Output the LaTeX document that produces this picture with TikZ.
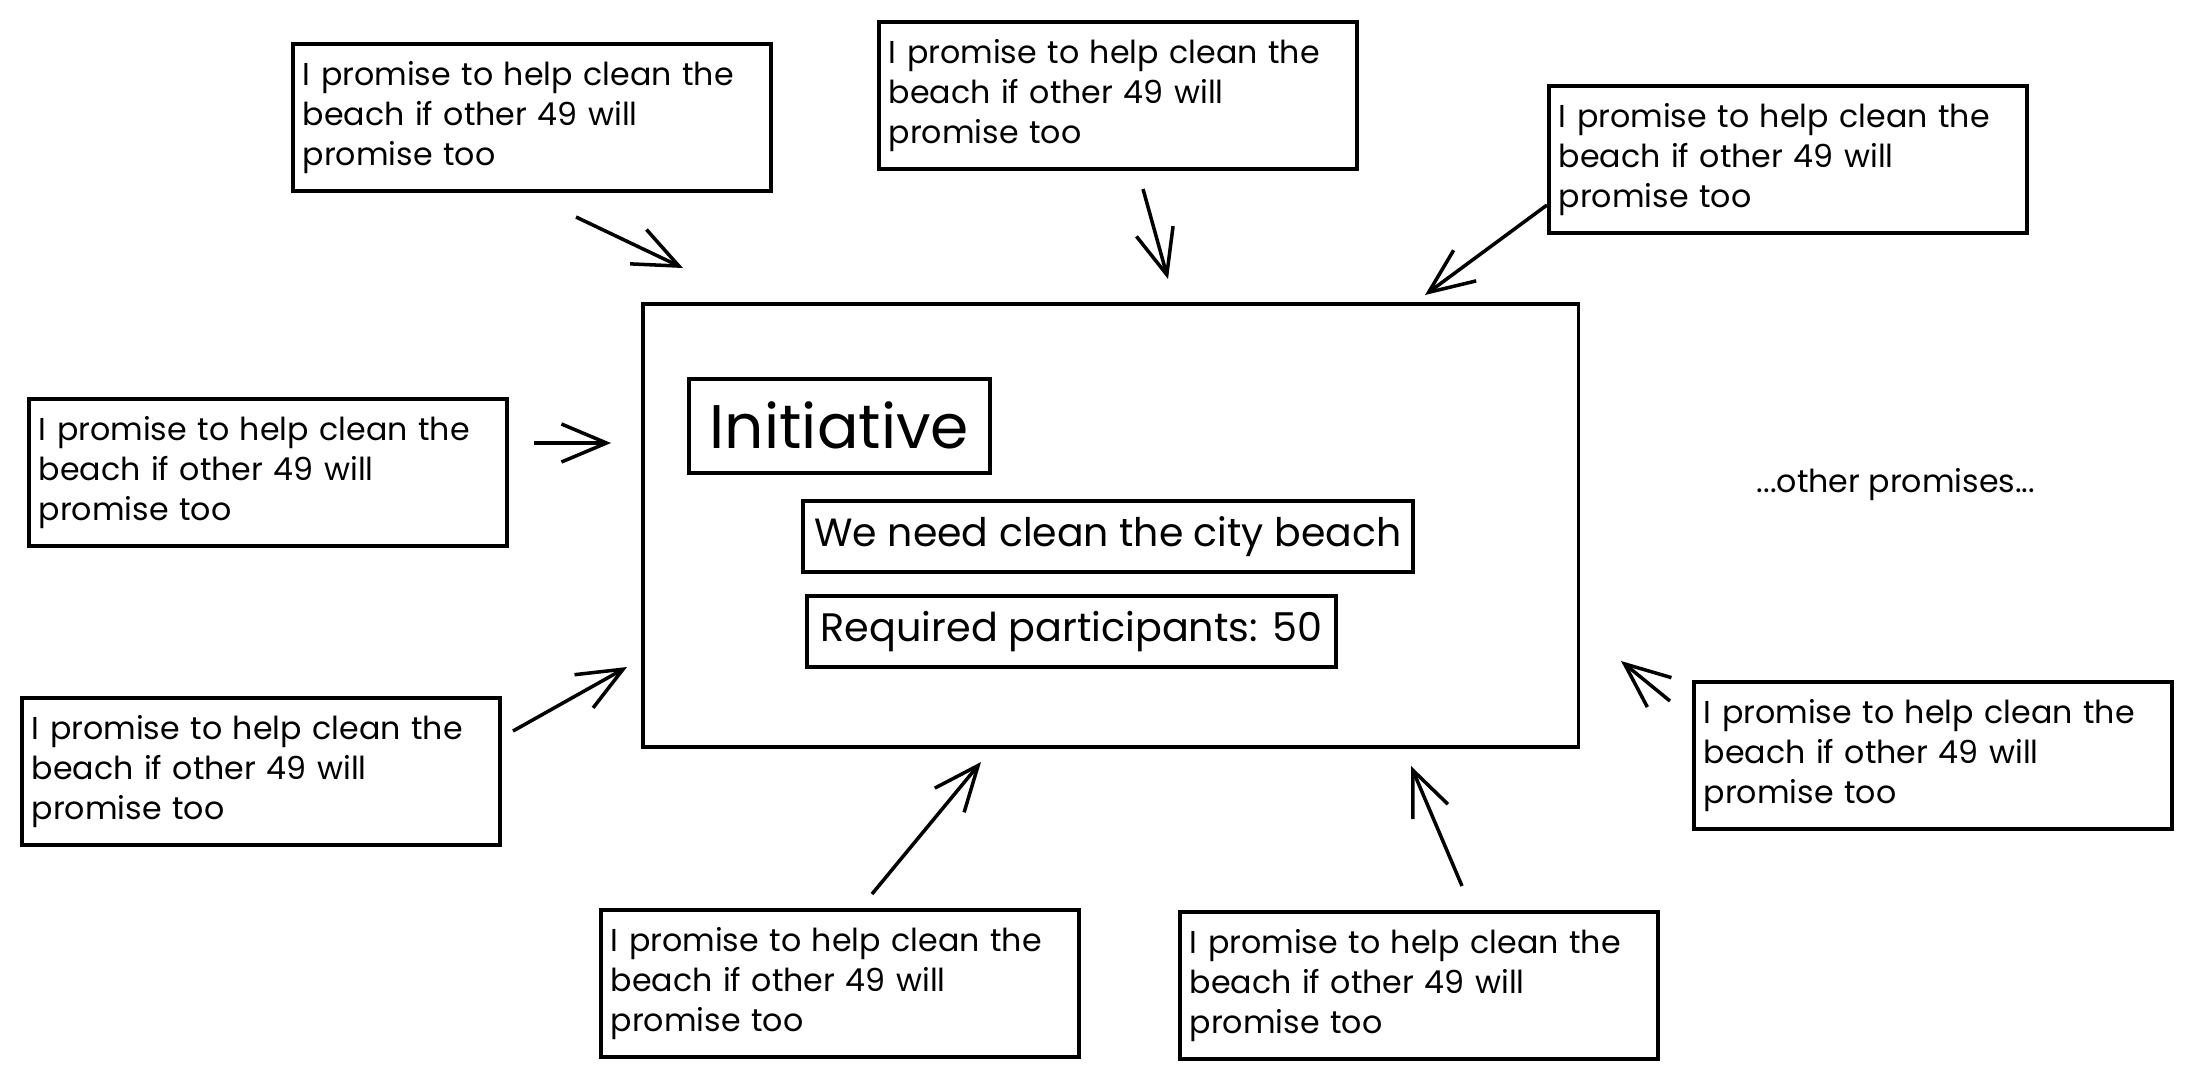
\documentclass[tikz,border=0pt]{standalone}
\usepackage{fontspec}
\setmainfont{Poppins}
\usetikzlibrary{arrows.meta}
\begin{document}
\begin{tikzpicture}[x=0.01cm,y=-0.01cm,
  promise/.style={draw, line width=1pt, anchor=north west, minimum width=4.78cm, minimum height=1.47cm,
    text width=4.58cm, inner xsep=0.1cm, align=left, font=\fontsize{9}{11.4}\selectfont},
  inbox/.style={draw, line width=1pt, anchor=north west, inner sep=0pt},
  arr/.style={line width=1pt, -{Straight Barb[length=4.5mm, width=3.8mm]}},
  note/.style={font=\fontsize{9}{11.4}\selectfont}]
\useasboundingbox (0,0) rectangle (2191,1078);
\def\ptext{I promise to help clean the\\beach if other 49 will\\promise too}
% promise boxes
\node[promise] (pTL) at (291,42) {\ptext};
\node[promise] (pT) at (877,20) {\ptext};
\node[promise] (pTR) at (1547,84) {\ptext};
\node[promise] (pL) at (27,397) {\ptext};
\node[promise] (pBL) at (20,696) {\ptext};
\node[promise] (pB1) at (599,908) {\ptext};
\node[promise] (pB2) at (1178,910) {\ptext};
\node[promise] (pR) at (1692,680) {\ptext};
% main initiative box
\node[draw, line width=1pt, anchor=north west, minimum width=9.35cm, minimum height=4.43cm] (main) at (641,302) {};
\node[inbox, minimum width=3.01cm, minimum height=0.94cm, font=\fontsize{17.5}{20}\selectfont] (title) at (687,377) {Initiative};
\node[inbox, minimum width=6.10cm, minimum height=0.71cm, font=\fontsize{11.2}{13}\selectfont] (need) at (801,499) {We need clean the city beach};
\node[inbox, minimum width=5.29cm, minimum height=0.71cm, font=\fontsize{11.3}{13}\selectfont] (req) at (805,594) {Required participants: 50};
\node[note] (other) at (1896,485) {...other promises...};
% arrow end points
\coordinate (aTLs) at (576,217); \coordinate (aTLe) at (683,268);
\coordinate (aTs) at (1143,189); \coordinate (aTe) at (1168,279);
\coordinate (aTRs) at (1547,205); \coordinate (aTRe) at (1425,295);
\coordinate (aLs) at (534,443); \coordinate (aLe) at (611,443);
\coordinate (aBLs) at (513,731); \coordinate (aBLe) at (627,667);
\coordinate (aB1s) at (872,894); \coordinate (aB1e) at (981,762);
\coordinate (aB2s) at (1462,886); \coordinate (aB2e) at (1411,766);
\coordinate (aRs) at (1670,701); \coordinate (aRe) at (1621,661);
\draw[arr] (aTLs) -- (aTLe);
\draw[arr] (aTs) -- (aTe);
\draw[arr] (aTRs) -- (aTRe);
\draw[arr] (aLs) -- (aLe);
\draw[arr] (aBLs) -- (aBLe);
\draw[arr] (aB1s) -- (aB1e);
\draw[arr] (aB2s) -- (aB2e);
\draw[arr] (aRs) -- (aRe);
\end{tikzpicture}
\end{document}
